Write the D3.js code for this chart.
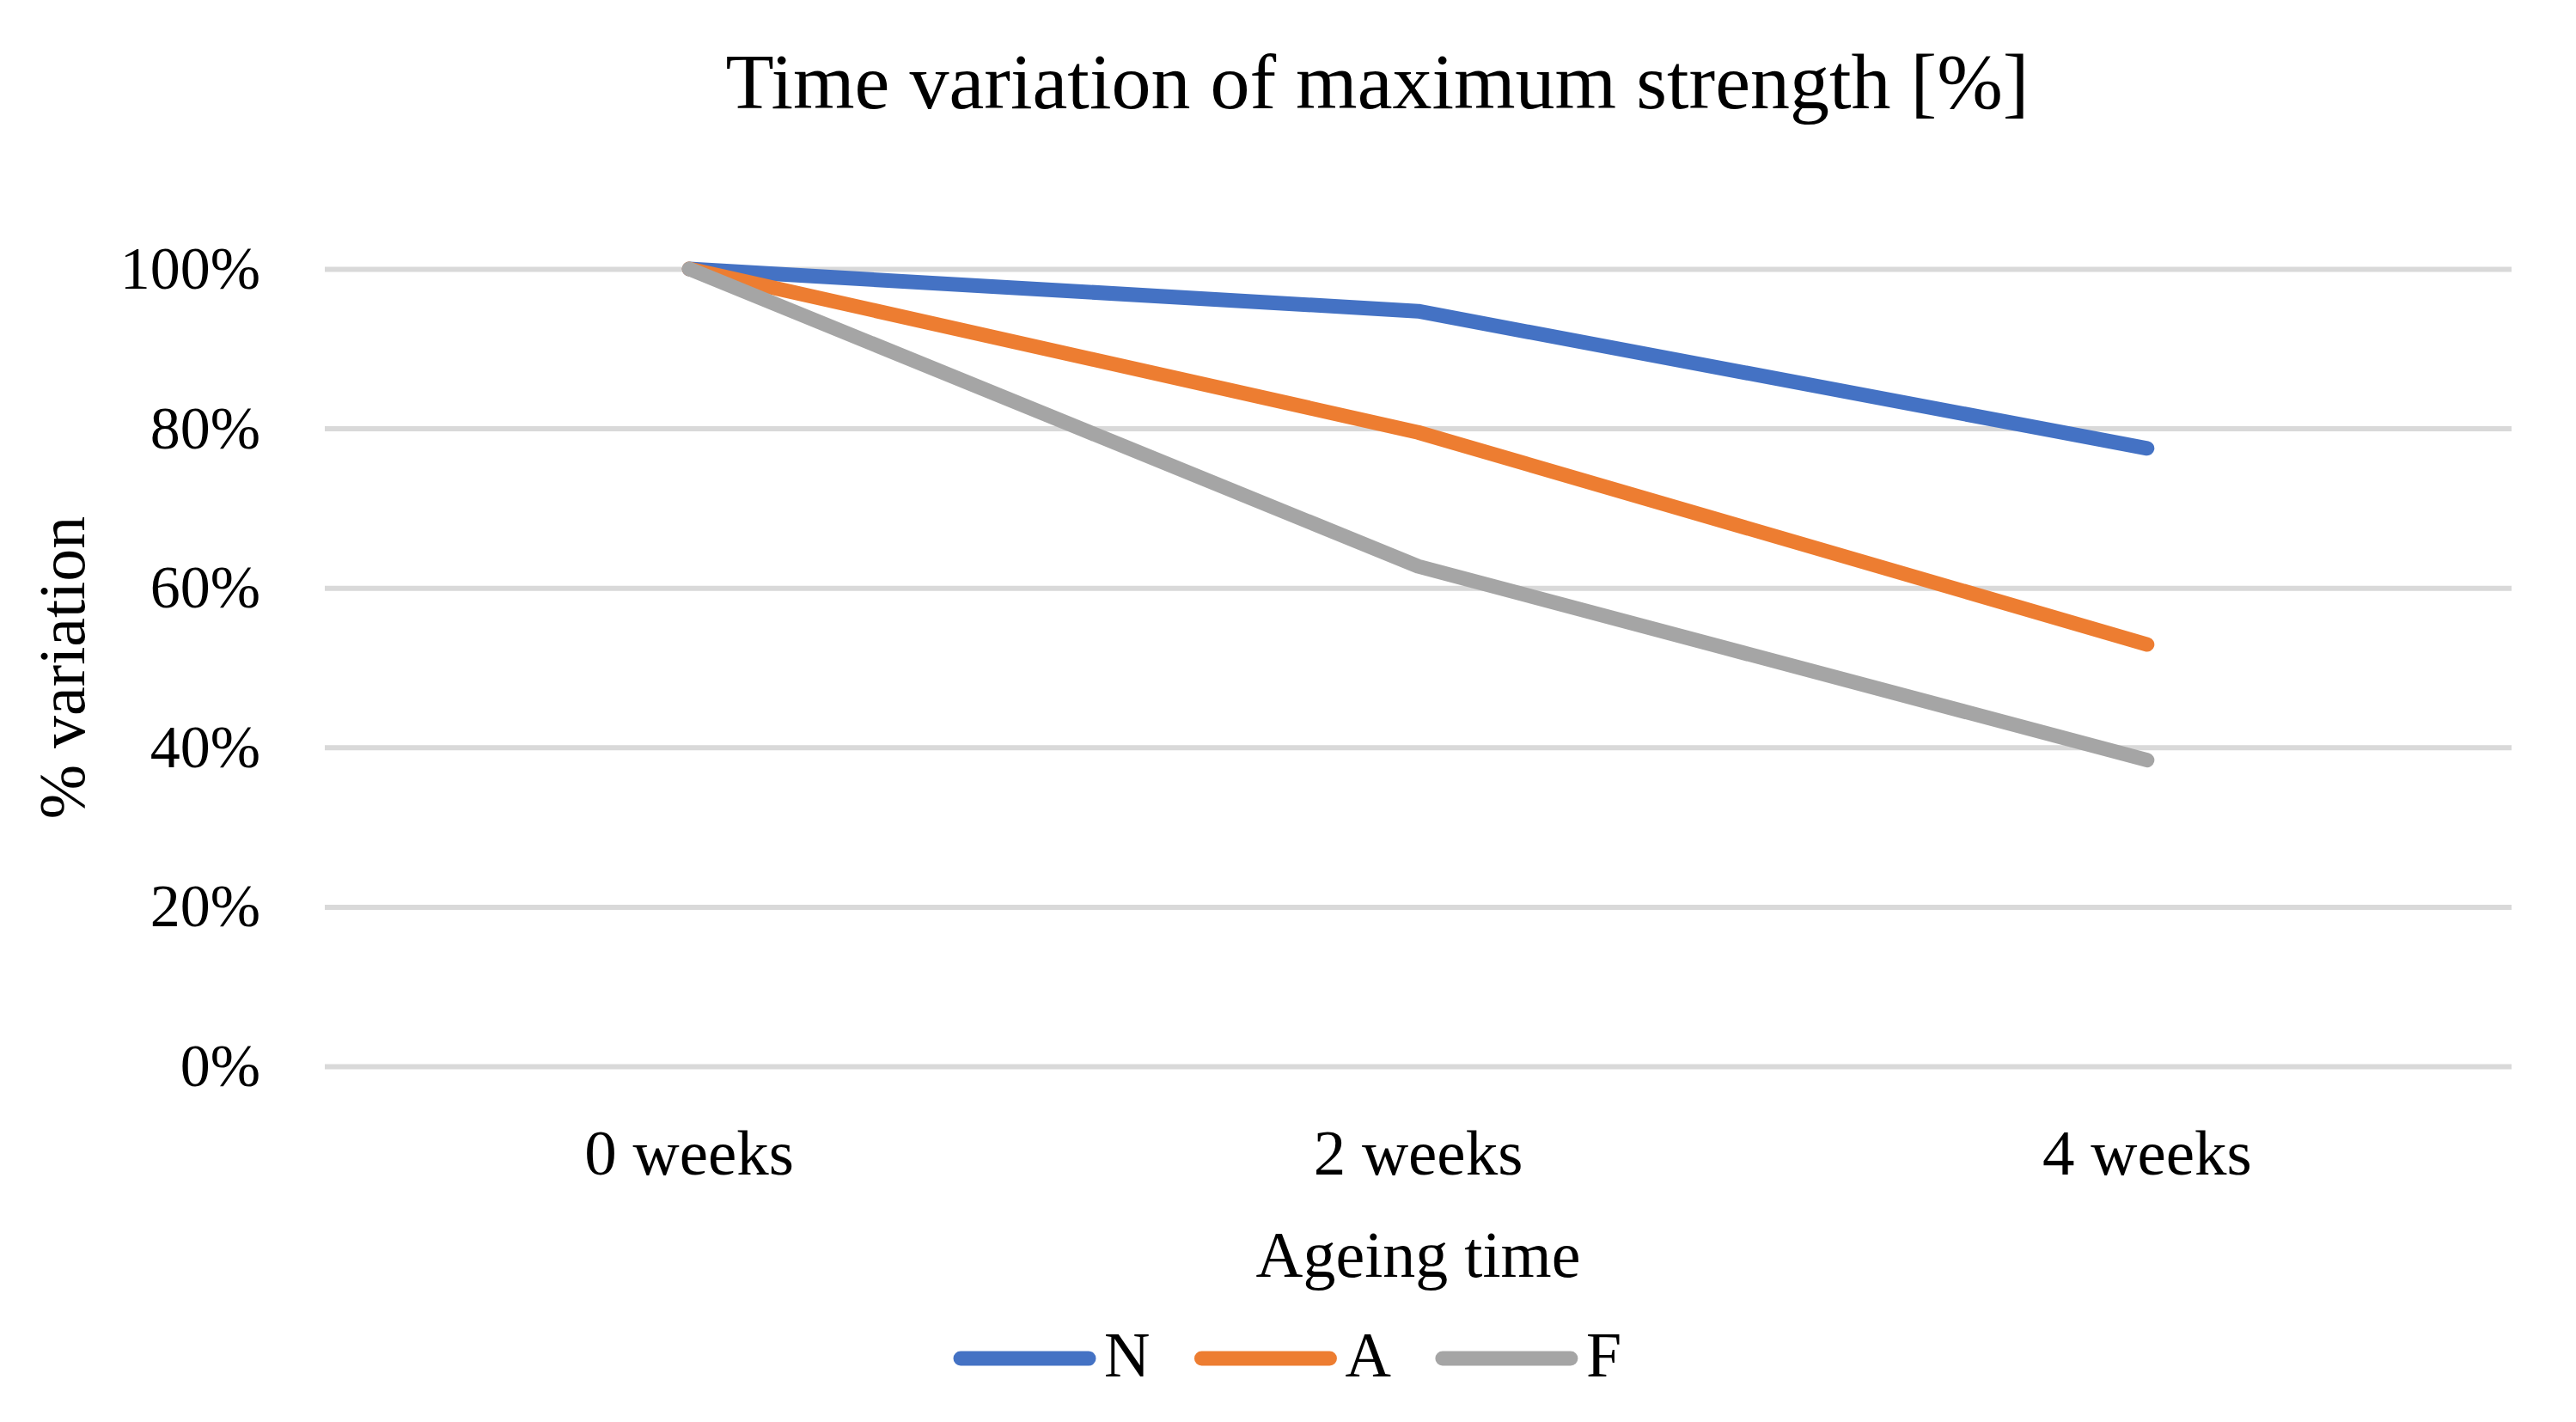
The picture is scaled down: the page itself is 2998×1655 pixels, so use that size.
<!DOCTYPE html>
<html>
<head>
<meta charset="utf-8">
<script src="https://cdn.jsdelivr.net/npm/d3@7"></script>
<style>
  body { margin: 0; background: #fff; }
  text { font-family: "Palatino Linotype", "Book Antiqua", Palatino, "Liberation Serif", serif; fill: #000; }
</style>
</head>
<body>
<div id="chart"></div>
<script>
const categories = ["0 weeks", "2 weeks", "4 weeks"];
const seriesNames = ["N", "A", "F"];
const valuesN = [100, 94.7, 77.5];
const valuesA = [100, 79.5, 52.9];
const valuesF = [100, 62.7, 38.4];
const yTicks = [0, 20, 40, 60, 80, 100];
const colors = ["#4472C4", "#ED7D31", "#A5A5A5"];

const width = 2998;
const height = 1655;
const plotLeft = 378;
const plotRight = 2923;
const plotTop = 313;
const plotBottom = 1241;

const series = seriesNames.map((name, i) => ({
  name: name,
  color: colors[i],
  values: [valuesN, valuesA, valuesF][i]
}));

const svg = d3.select("#chart")
  .append("svg")
  .attr("width", width)
  .attr("height", height)

const xScale = d3.scaleBand()
  .domain(categories)
  .range([plotLeft, plotRight])

const yScale = d3.scaleLinear()
  .domain([0, 100])
  .range([plotBottom, plotTop])

const xCenter = c => xScale(c) + xScale.bandwidth() / 2;

// y axis with gridlines
const yAxis = svg.append("g")
  .attr("transform", `translate(${plotLeft}, 0)`)
  .call(d3.axisLeft(yScale)
    .tickValues(yTicks)
    .tickFormat(d => d + "%")
    .tickSize(-(plotRight - plotLeft))
    .tickPadding(75))
yAxis.select(".domain").remove()
yAxis.selectAll("line")
  .attr("stroke", "#d9d9d9")
  .attr("stroke-width", 6)
yAxis.selectAll("text")
  .style("font-size", "70px")
  .attr("font-family", null)

// x axis labels
const xAxis = svg.append("g")
  .attr("transform", `translate(0, ${plotBottom})`)
  .call(d3.axisBottom(xScale).tickSize(0).tickPadding(73))
xAxis.select(".domain").remove()
xAxis.selectAll("text")
  .style("font-size", "75px")
  .attr("font-family", null)

// lines
const line = d3.line()
  .x((d, i) => xCenter(categories[i]))
  .y(d => yScale(d))

svg.selectAll(".series")
  .data(series)
  .enter()
  .append("path")
  .attr("class", "series")
  .attr("d", d => line(d.values))
  .attr("fill", "none")
  .attr("stroke", d => d.color)
  .attr("stroke-width", 17)
  .attr("stroke-linecap", "round")
  .attr("stroke-linejoin", "round")

// titles
svg.append("text")
  .attr("x", 1603)
  .attr("y", 126)
  .attr("text-anchor", "middle")
  .style("font-size", "92px")
  .text("Time variation of maximum strength [%]")

svg.append("text")
  .attr("x", (plotLeft + plotRight) / 2)
  .attr("y", 1486)
  .attr("text-anchor", "middle")
  .style("font-size", "76px")
  .text("Ageing time")

svg.append("text")
  .attr("transform", `translate(98, ${(plotTop + plotBottom) / 2}) rotate(-90)`)
  .attr("text-anchor", "middle")
  .style("font-size", "76px")
  .text("% variation")

// legend
const legend = svg.append("g")
let lx = 1110;
series.forEach(s => {
  legend.append("line")
    .attr("x1", lx + 8)
    .attr("x2", lx + 157)
    .attr("y1", 1581)
    .attr("y2", 1581)
    .attr("stroke", s.color)
    .attr("stroke-width", 17)
    .attr("stroke-linecap", "round")
  const t = legend.append("text")
    .attr("x", lx + 175)
    .attr("y", 1602)
    .style("font-size", "74px")
    .text(s.name)
  lx = lx + 175 + t.node().getComputedTextLength() + 52;
})
</script>
</body>
</html>
